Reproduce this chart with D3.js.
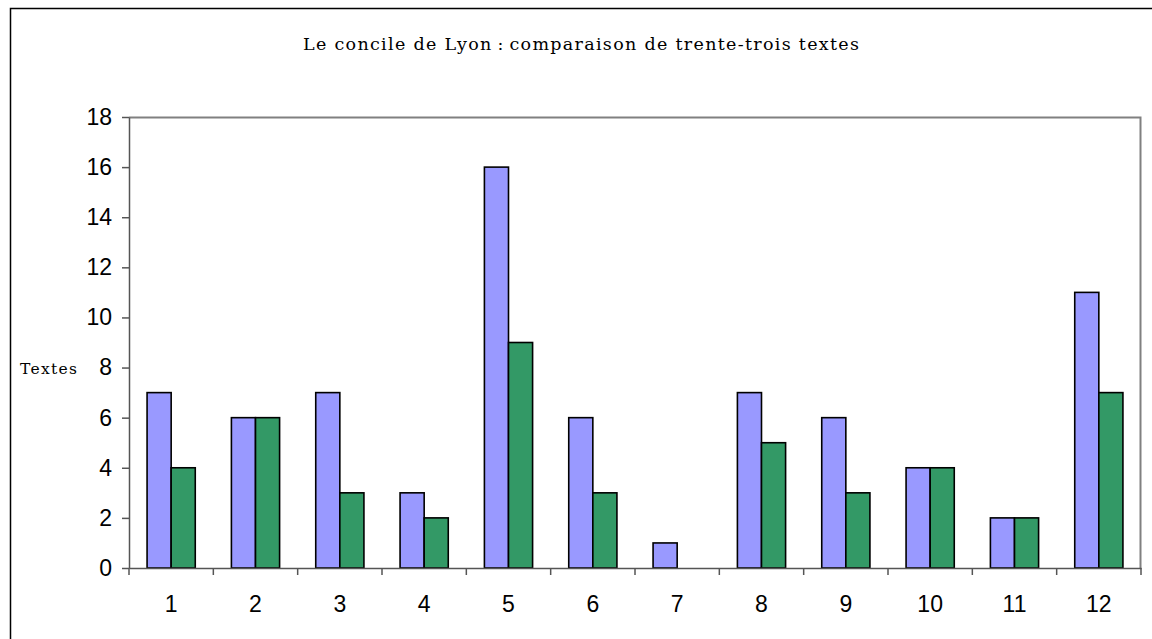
<!DOCTYPE html>
<html>
<head>
<meta charset="utf-8">
<script src="https://cdn.jsdelivr.net/npm/d3@7"></script>
<style>
  body { margin: 0; background: #fff; }
</style>
</head>
<body>
<div id="chart"></div>
<script>
// donnees
const categories = ['1', '2', '3', '4', '5', '6', '7', '8', '9', '10', '11', '12'];
const serieA = [7, 6, 7, 3, 16, 6, 1, 7, 6, 4, 2, 11];
const serieB = [4, 6, 3, 2, 9, 3, 0, 5, 3, 4, 2, 7];
const yTicks = [0, 2, 4, 6, 8, 10, 12, 14, 16, 18];

const svgWidth = 1152;
const svgHeight = 639;
const margin = { top: 117, right: 11, bottom: 71, left: 129 };
const width = svgWidth - margin.left - margin.right;
const height = svgHeight - margin.top - margin.bottom;

const root = d3.select('#chart')
  .append('svg')
  .attr('width', svgWidth)
  .attr('height', svgHeight);

// cadre exterieur
root.append('rect')
  .attr('x', 10.5).attr('y', 8.5)
  .attr('width', 1200).attr('height', 700)
  .attr('fill', 'none')
  .attr('stroke', '#000')
  .attr('stroke-width', 1.5);

const svg = root.append('g')
  .attr('transform', `translate(${margin.left},${margin.top})`);

const xScale = d3.scaleBand()
  .domain(categories)
  .range([0, width]);

// deux barres par categorie, espacement 150 %
const inner = d3.scaleBand()
  .domain([0, 1])
  .range([0, xScale.bandwidth()])
  .paddingOuter(0.75)
  .paddingInner(0);

const yScale = d3.scaleLinear()
  .domain([0, 18])
  .range([height, 0]);

// bordure de la zone de tracé
svg.append('path')
  .attr('d', `M0,0.5H${width - 0.5}V${height}`)
  .attr('fill', 'none')
  .attr('stroke', '#808080')
  .attr('stroke-width', 2);

const data = categories.map((c, i) => ({ c, a: serieA[i], b: serieB[i] }));

svg.selectAll('.barA')
  .data(data)
  .enter().append('rect')
  .attr('class', 'barA')
  .attr('x', d => xScale(d.c) + inner(0))
  .attr('y', d => yScale(d.a))
  .attr('width', inner.bandwidth())
  .attr('height', d => height - yScale(d.a))
  .attr('fill', '#9999FF')
  .attr('stroke', '#000')
  .attr('stroke-width', 1.6);

svg.selectAll('.barB')
  .data(data.filter(d => d.b > 0))
  .enter().append('rect')
  .attr('class', 'barB')
  .attr('x', d => xScale(d.c) + inner(1))
  .attr('y', d => yScale(d.b))
  .attr('width', inner.bandwidth())
  .attr('height', d => height - yScale(d.b))
  .attr('fill', '#339966')
  .attr('stroke', '#000')
  .attr('stroke-width', 1.6);

// axe Y
const yAxis = svg.append('g')
  .call(d3.axisLeft(yScale).tickValues(yTicks).tickSize(7).tickSizeOuter(0).tickPadding(10));
yAxis.select('.domain').attr('stroke', '#555').attr('stroke-width', 1.5);
yAxis.selectAll('.tick line').attr('stroke', '#555').attr('stroke-width', 1.5);
yAxis.selectAll('text')
  .style('font-family', 'Liberation Sans, Arial, sans-serif')
  .style('font-size', '23px')
  .attr('fill', '#000');

// axe X
const xAxis = svg.append('g')
  .attr('transform', `translate(0,${height})`)
  .call(d3.axisBottom(xScale).tickSize(0).tickPadding(28));
xAxis.select('.domain').attr('stroke', '#555').attr('stroke-width', 1.5);
xAxis.selectAll('text')
  .style('font-family', 'Liberation Sans, Arial, sans-serif')
  .style('font-size', '23px')
  .attr('fill', '#000');

// graduations entre les categories
const bounds = categories.map(c => xScale(c)).concat([width]);
svg.selectAll('.xtick')
  .data(bounds)
  .enter().append('line')
  .attr('class', 'xtick')
  .attr('x1', d => d).attr('x2', d => d)
  .attr('y1', height).attr('y2', height + 7)
  .attr('stroke', '#555')
  .attr('stroke-width', 1.5);

// titre
root.append('text')
  .attr('x', 581)
  .attr('y', 50)
  .attr('text-anchor', 'middle')
  .attr('textLength', 556)
  .attr('lengthAdjust', 'spacing')
  .style('font-family', 'DejaVu Serif, serif')
  .style('font-size', '17.5px')
  .text('Le concile de Lyon\u2009:\u2009comparaison de trente-trois textes');

// etiquette axe Y
root.append('text')
  .attr('x', 20)
  .attr('y', 374)
  .attr('textLength', 57)
  .attr('lengthAdjust', 'spacing')
  .style('font-family', 'DejaVu Serif, serif')
  .style('font-size', '15.5px')
  .text('Textes');
</script>
</body>
</html>
